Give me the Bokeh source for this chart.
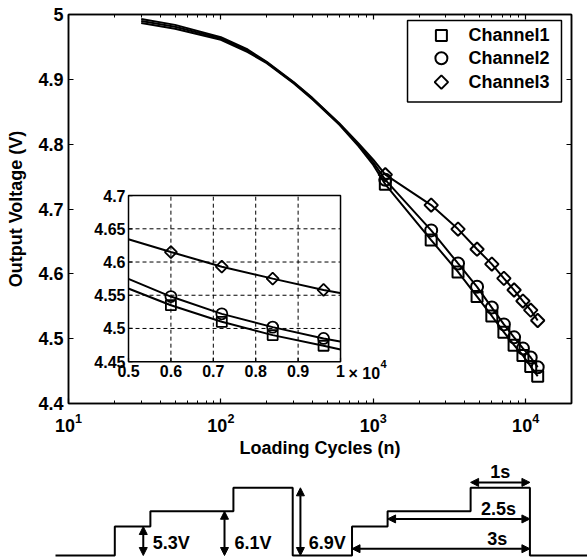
import numpy as np
from bokeh.plotting import figure
from bokeh.models import (Range1d, LogScale, LinearScale, LogAxis, LinearAxis, FixedTicker,
                          LogTickFormatter, NumeralTickFormatter, CustomJSTickFormatter,
                          ColumnDataSource, Arrow, NormalHead)
from bokeh.layouts import column
from bokeh.embed import file_html
from bokeh.resources import INLINE
from bokeh.core.properties import value

FONT = "Liberation Sans"

# ---------------- data ----------------
cycles_early = [30, 50, 100, 150, 200, 300, 400, 600, 800, 1000]
ch1_early = [4.987, 4.978, 4.961, 4.942, 4.925, 4.894, 4.869, 4.830, 4.797, 4.768]
ch2_early = [4.990, 4.981, 4.963, 4.944, 4.926, 4.895, 4.870, 4.831, 4.799, 4.772]
ch3_early = [4.993, 4.984, 4.965, 4.946, 4.927, 4.896, 4.871, 4.832, 4.801, 4.776]

cycles = [1200, 2400, 3600, 4800, 6000, 7200, 8400, 9600, 10800, 12000]
ch1 = [4.738, 4.652, 4.603, 4.565, 4.535, 4.510, 4.490, 4.474, 4.457, 4.442]
ch2 = [4.745, 4.667, 4.616, 4.580, 4.548, 4.522, 4.502, 4.485, 4.471, 4.456]
ch3 = [4.753, 4.706, 4.669, 4.638, 4.615, 4.593, 4.575, 4.558, 4.544, 4.528]
channel_names = ["Channel1", "Channel2", "Channel3"]

y_ticks = [4.4, 4.5, 4.6, 4.7, 4.8, 4.9, 5.0]
x_major = [10, 100, 1000, 10000]
x_minor = [k * 10 ** n for n in range(1, 5) for k in range(2, 10) if k * 10 ** n <= 20000]

inset_x_ticks = [5000, 6000, 7000, 8000, 9000, 10000]
inset_x_labels = ["0.5", "0.6", "0.7", "0.8", "0.9", "1"]
inset_y_ticks = [4.45, 4.5, 4.55, 4.6, 4.65, 4.7]
inset_y_labels = ["4.45", "4.5", "4.55", "4.6", "4.65", "4.7"]

# loading waveform schematic (time in s, relative level)
wave_t = [0, 1.0, 1.6, 3.0, 4.0, 5.0, 5.6, 7.0, 8.0, 9.0]
wave_level = [0, 0.428, 0.654, 1.0, 0, 0.428, 0.654, 1.0, 0, 0]
volt_labels = ["5.3V", "6.1V", "6.9V"]
volt_arrow_t = [1.48, 2.85, 4.13]
volt_arrow_top = [0.428, 0.654, 1.0]
volt_label_t = [1.64, 3.02, 4.27]
time_labels = ["1s", "2.5s", "3s"]
time_arrow_start = [7.0, 5.6, 5.0]
time_arrow_end = [8.0, 8.0, 8.0]
time_arrow_level = [1.08, 0.54, 0.10]
time_label_t = [7.5, 7.47, 7.45]
time_label_level = [1.24, 0.69, 0.25]

# ---------------- main figure ----------------
W = 587
p = figure(width=W, height=460, output_backend="svg", toolbar_location=None,
           x_range=Range1d(0, 1), y_range=Range1d(4.4, 5.0),
           x_axis_type=None, y_axis_type=None, frame_align=False,
           min_border_left=68, min_border_right=16, min_border_top=14, min_border_bottom=55)
p.extra_x_ranges = {"cyc": Range1d(10, 20000)}
p.extra_x_scales = {"cyc": LogScale()}
p.outline_line_color = "black"
p.outline_line_width = 1.5
p.background_fill_color = "white"
p.border_fill_color = "white"

blank = CustomJSTickFormatter(code="return ''")


def style_axis(ax, show_labels=True):
    ax.major_tick_in = 5
    ax.major_tick_out = 0
    ax.minor_tick_in = 3
    ax.minor_tick_out = 0
    ax.axis_line_width = 1.5
    ax.axis_line_color = "black"
    ax.major_tick_line_width = 1.2
    ax.minor_tick_line_width = 1
    ax.major_tick_line_color = "black"
    ax.minor_tick_line_color = "black"
    ax.major_label_text_font = FONT
    ax.major_label_text_font_style = "bold"
    ax.major_label_text_font_size = "18px"
    ax.major_label_text_color = "black"
    ax.axis_label_text_font = FONT
    ax.axis_label_text_font_style = "bold"
    ax.axis_label_text_font_size = "18px"
    ax.axis_label_text_color = "black"
    ax.major_label_standoff = 4
    ax.axis_label_standoff = 4
    if not show_labels:
        ax.formatter = blank
        ax.major_label_text_font_size = "0px"
        ax.major_label_standoff = 0


xb = LogAxis(x_range_name="cyc", ticker=FixedTicker(ticks=x_major, minor_ticks=x_minor),
             formatter=LogTickFormatter(), axis_label="Loading Cycles (n)")
style_axis(xb)
xb.major_label_standoff = 9
xb.axis_label_standoff = 3
p.add_layout(xb, "below")
xt = LogAxis(x_range_name="cyc", ticker=FixedTicker(ticks=x_major, minor_ticks=x_minor))
style_axis(xt, False)
p.add_layout(xt, "above")
yl = LinearAxis(ticker=FixedTicker(ticks=y_ticks), formatter=NumeralTickFormatter(format="0.[0]"),
                axis_label="Output Voltage (V)")
style_axis(yl)
yl.major_label_standoff = 5
yl.axis_label_standoff = 9
p.add_layout(yl, "left")
yr = LinearAxis(ticker=FixedTicker(ticks=y_ticks))
style_axis(yr, False)
p.add_layout(yr, "right")

series = [(ch1_early, ch1), (ch2_early, ch2), (ch3_early, ch3)]
marker_specs = [dict(marker="square", size=11, angle=0),
                dict(marker="circle", size=12, angle=0),
                dict(marker="square", size=9.5, angle=np.pi / 4)]

for (early, meas) in series:
    p.line(cycles_early + cycles, early + meas, x_range_name="cyc",
           line_color="black", line_width=2)
for (early, meas), spec in zip(series, marker_specs):
    p.scatter(cycles, meas, x_range_name="cyc", marker=spec["marker"], size=spec["size"],
              angle=spec["angle"], fill_color=None, line_color="black", line_width=2)

# ---------------- legend box (own local coordinates 0..1) ----------------
legend_row_y = [0.817, 0.537, 0.244]
legend_marker_x = 0.22
legend_text_x = 0.396
leg = p.subplot(x_source=Range1d(0, 1), y_source=Range1d(0, 1),
                x_scale=LinearScale(), y_scale=LinearScale(),
                x_target=Range1d(0.6740, 0.9801), y_target=Range1d(4.8650, 4.9908))
leg.quad(left=[0], right=[1], bottom=[0], top=[1], fill_color="white",
         line_color="black", line_width=1.5)
for yy, spec in zip(legend_row_y, marker_specs):
    leg.scatter([legend_marker_x], [yy], marker=spec["marker"], size=spec["size"],
                angle=spec["angle"], fill_color=None, line_color="black", line_width=2)
leg.text(x=[legend_text_x] * 3, y=legend_row_y, text=channel_names, text_align="left",
         text_baseline="middle", text_font=value(FONT), text_font_style="bold",
         text_font_size="18px", text_color="black")

# ---------------- inset (sub-coordinates) ----------------
ix0, ix1 = inset_x_ticks[0], inset_x_ticks[-1]
iy0, iy1 = inset_y_ticks[0], inset_y_ticks[-1]
inset = p.subplot(x_source=Range1d(ix0, ix1), y_source=Range1d(iy0, iy1),
                  x_scale=LogScale(), y_scale=LinearScale(),
                  x_target=Range1d(0.1193, 0.5408), y_target=Range1d(4.4645, 4.7207))

inset.quad(left=[ix0], right=[ix1], bottom=[iy0], top=[iy1], fill_color="white", line_color=None)
gx = inset_x_ticks[1:-1]
inset.segment(x0=gx, y0=[iy0] * len(gx), x1=gx, y1=[iy1] * len(gx),
              line_color="black", line_width=1, line_dash="4 3")
gy = inset_y_ticks[1:-1]
inset.segment(x0=[ix0] * len(gy), y0=gy, x1=[ix1] * len(gy), y1=gy,
              line_color="black", line_width=1, line_dash="4 3")

in_idx = [i for i, c in enumerate(cycles) if ix0 * 0.9 <= c <= ix1 * 1.1]
for (early, meas) in series:
    inset.line([cycles[i] for i in in_idx], [meas[i] for i in in_idx],
               line_color="black", line_width=2)
mk_idx = [i for i, c in enumerate(cycles) if ix0 <= c <= ix1]
for (early, meas), spec in zip(series, marker_specs):
    inset.scatter([cycles[i] for i in mk_idx], [meas[i] for i in mk_idx], marker=spec["marker"],
                  size=spec["size"] - 1, angle=spec["angle"], fill_color=None,
                  line_color="black", line_width=1.8)

# white covers that clip the connecting lines at the inset border
inset.quad(left=[ix0 * 0.9], right=[ix0], bottom=[iy0 - 0.005], top=[iy1 + 0.005],
           fill_color="white", line_color=None)
inset.quad(left=[ix1], right=[ix1 * 1.09], bottom=[iy0 - 0.005], top=[iy1 + 0.005],
           fill_color="white", line_color=None)
inset.quad(left=[ix0], right=[ix1], bottom=[iy0], top=[iy1], fill_color=None,
           line_color="black", line_width=1.5)
inset.ray(x=[ix0] * len(inset_y_ticks), y=inset_y_ticks, length=4, length_units="screen",
          angle=0, line_color="black", line_width=1.2)
inset.ray(x=inset_x_ticks, y=[iy0] * len(inset_x_ticks), length=4, length_units="screen",
          angle=np.pi / 2, line_color="black", line_width=1.2)
inset.text(x=[ix0] * len(inset_y_ticks), y=inset_y_ticks, text=inset_y_labels,
           x_offset=-3, text_align="right", text_baseline="middle",
           text_font=value(FONT), text_font_style="bold", text_font_size="16px", text_color="black")
inset.text(x=inset_x_ticks, y=[iy0] * len(inset_x_ticks), text=inset_x_labels,
           y_offset=3, text_align="center", text_baseline="top",
           text_font=value(FONT), text_font_style="bold", text_font_size="16px", text_color="black")
inset.text(x=[ix1], y=[iy0], text=["\u00d7 10"], x_offset=8, y_offset=3,
           text_align="left", text_baseline="top",
           text_font=value(FONT), text_font_style="bold", text_font_size="16px", text_color="black")
inset.text(x=[ix1], y=[iy0], text=["4"], x_offset=40, y_offset=-2,
           text_align="left", text_baseline="top",
           text_font=value(FONT), text_font_style="bold", text_font_size="11px", text_color="black")

# ---------------- waveform schematic ----------------
p2 = figure(width=W, height=98, output_backend="svg", toolbar_location=None,
            x_range=Range1d(-0.9275, 8.971), y_range=Range1d(-0.0443, 1.4033),
            x_axis_type=None, y_axis_type=None, min_border=0, outline_line_color=None,
            frame_align=False)
p2.step(wave_t, wave_level, mode="after", line_color="black", line_width=2)

head = dict(size=8, fill_color="black", line_color="black", line_width=1)
vsrc = ColumnDataSource(dict(x0=volt_arrow_t, y0=[0] * 3, x1=volt_arrow_t, y1=volt_arrow_top))
p2.add_layout(Arrow(x_start="x0", y_start="y0", x_end="x1", y_end="y1", source=vsrc,
                    start=NormalHead(**head), end=NormalHead(**head),
                    line_color="black", line_width=2))
tsrc = ColumnDataSource(dict(x0=time_arrow_start, y0=time_arrow_level,
                             x1=time_arrow_end, y1=time_arrow_level))
p2.add_layout(Arrow(x_start="x0", y_start="y0", x_end="x1", y_end="y1", source=tsrc,
                    start=NormalHead(**head), end=NormalHead(**head),
                    line_color="black", line_width=2))
p2.text(x=volt_label_t, y=[0.18] * 3, text=volt_labels, text_align="left", text_baseline="middle",
        text_font=value(FONT), text_font_style="bold", text_font_size="18px", text_color="black")
p2.text(x=time_label_t, y=time_label_level, text=time_labels, text_align="center",
        text_baseline="middle",
        text_font=value(FONT), text_font_style="bold", text_font_size="18px", text_color="black")

layout = column(p, p2, spacing=0)
open("out.html", "w").write(file_html(layout, INLINE))
